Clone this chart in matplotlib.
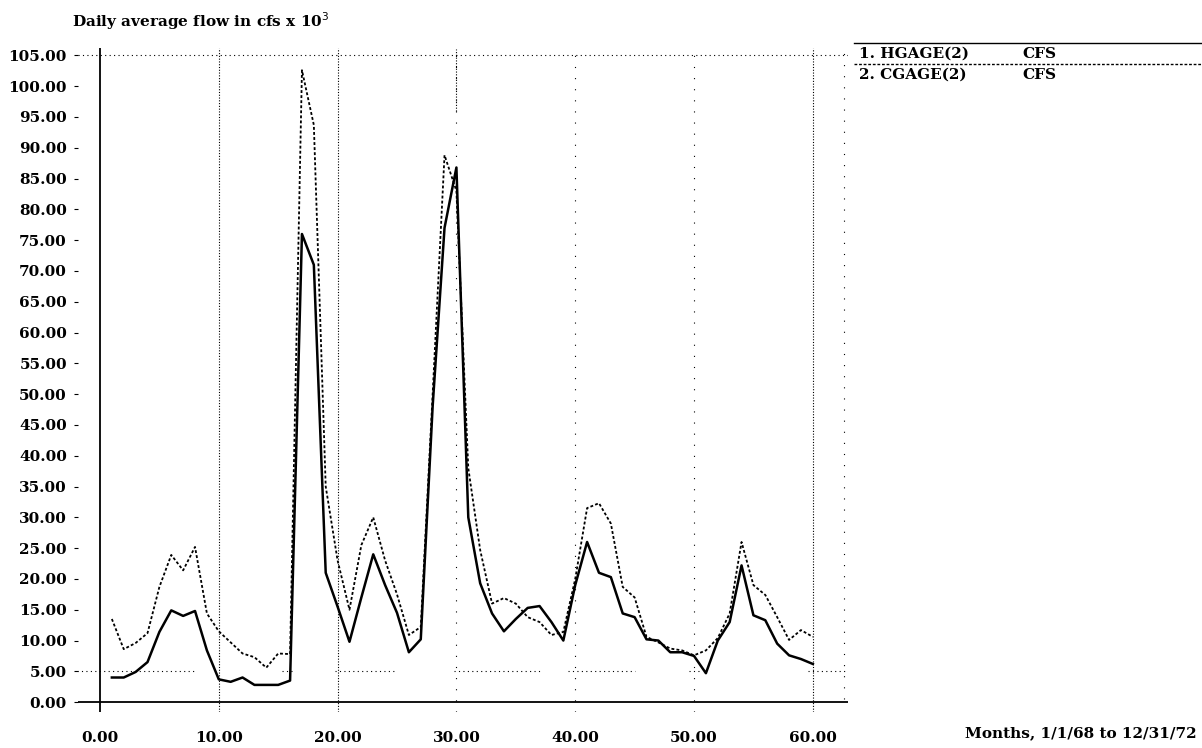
"""
Daily average flow, HGAGE vs CGAGE, monthly 1968-1972.
"""
import matplotlib
matplotlib.use("Agg")
import matplotlib.pyplot as plt
from matplotlib.lines import Line2D
import numpy as np

################################################################################
# DATA
################################################################################

months = np.arange(1, 61)

hgage = [4.0, 4.0, 4.9, 6.5, 11.4, 14.9, 14.0, 14.8, 8.4, 3.7,
         3.3, 4.0, 2.8, 2.8, 2.8, 3.5, 76.0, 71.0, 21.0, 15.5,
         9.8, 17.0, 24.0, 19.0, 14.5, 8.1, 10.2, 48.0, 77.0, 86.8,
         30.0, 19.3, 14.4, 11.5, 13.5, 15.3, 15.6, 13.0, 10.0, 19.0,
         26.0, 21.0, 20.3, 14.4, 13.8, 10.2, 10.0, 8.1, 8.1, 7.5,
         4.7, 10.0, 13.0, 22.2, 14.1, 13.3, 9.5, 7.6, 7.0, 6.2]

cgage = [13.5, 8.6, 9.6, 11.2, 18.7, 23.9, 21.4, 25.2, 14.4, 11.5,
         9.7, 7.9, 7.3, 5.6, 7.9, 7.8, 102.6, 93.7, 35.0, 23.0,
         15.0, 25.5, 30.0, 23.0, 17.5, 10.9, 12.2, 50.0, 88.8, 83.0,
         38.0, 24.7, 16.0, 16.9, 16.0, 13.8, 13.0, 10.9, 11.4, 20.0,
         31.5, 32.3, 29.0, 18.7, 17.0, 10.6, 9.7, 8.7, 8.4, 7.6,
         8.4, 10.4, 14.4, 26.0, 19.0, 17.4, 13.8, 10.1, 11.7, 10.6]

yticks = np.arange(0, 106, 5)
xticks = [0, 10, 20, 30, 40, 50, 60]
legend_names = ["1. HGAGE(2)", "2. CGAGE(2)"]
legend_units = ["CFS", "CFS"]

################################################################################
# PLOTTING
################################################################################

W, H = 1202, 748
font = dict(family="DejaVu Serif", weight="bold", size=11)


def fx(px):
    return px / W


def fy(py):
    return 1 - py / H


fig = plt.figure(figsize=(W / 100, H / 100), dpi=100)
ax = fig.add_axes([fx(78), fy(712), fx(848) - fx(78), fy(48) - fy(712)])
xlim = (-1.85, 62.96)
ylim = (-1.6, 106.2)
ax.set_xlim(*xlim)
ax.set_ylim(*ylim)
for s in ax.spines.values():
    s.set_visible(False)

# Grid, drawn the way the old plotter did.
dense = dict(color="k", lw=0.8, ls=(0, (1, 1.5)))
sparse = dict(color="k", lw=0.8, ls=(0, (1, 9)))
for xv in [10, 20, 60]:
    ax.plot([xv, xv], [ylim[0], ylim[1]], **dense)
for xv in [30, 40, 50]:
    ax.plot([xv, xv], [ylim[0], ylim[1]], **sparse)
ax.plot([62.6, 62.6], [0.5, 106], **sparse)
ax.plot([30, 30], [96, 106], **dense)
ax.plot([xlim[0], xlim[1]], [105, 105], color="k", lw=0.8, ls=(0, (1, 3)))
for x0, x1 in [(-1.9, 8.0), (15.3, 16.2), (19.8, 25.0), (29.8, 37.2),
               (39.4, 45.0), (49.6, 50.4), (59.6, 62.9)]:
    ax.plot([x0, x1], [5, 5], color="k", lw=0.8, ls=(0, (1, 3)))

# Axes lines.
ax.axhline(0, color="k", lw=1.3)
ax.plot([0, 0], [ylim[0], ylim[1]], color="k", lw=1.3)

# Series.
ax.plot(months, hgage, color="k", lw=1.8)
ax.plot(months, cgage, color="k", lw=1.3, ls=(0, (1.6, 1.2)))

# Ticks.
ax.set_yticks(yticks)
ax.set_yticklabels([f"{v:.2f}" for v in yticks], **font)
ax.set_xticks(xticks)
ax.set_xticklabels([f"{v:.2f}" for v in xticks], **font)
ax.tick_params(axis="y", length=3, width=0.8, pad=5)
ax.tick_params(axis="x", length=0, pad=14)

# Title and axis note.
fig.text(fx(72), fy(21), r"Daily average flow in cfs x 10$^{3}$",
         ha="left", va="center", **font)
fig.text(fx(1197), fy(733), "Months, 1/1/68 to 12/31/72",
         ha="right", va="center", **font)

# Legend block on the right.
fig.add_artist(Line2D([fx(854), fx(1202)], [fy(43), fy(43)],
                      color="k", lw=1.0))
fig.add_artist(Line2D([fx(854), fx(1202)], [fy(64), fy(64)],
                      color="k", lw=1.0, ls=(0, (2, 1.3))))
for i, (name, unit) in enumerate(zip(legend_names, legend_units)):
    yy = fy(54 + i * 21)
    fig.text(fx(859), yy, name, ha="left", va="center", **font)
    fig.text(fx(1022), yy, unit, ha="left", va="center", **font)

plt.savefig("out.png", dpi=100)
